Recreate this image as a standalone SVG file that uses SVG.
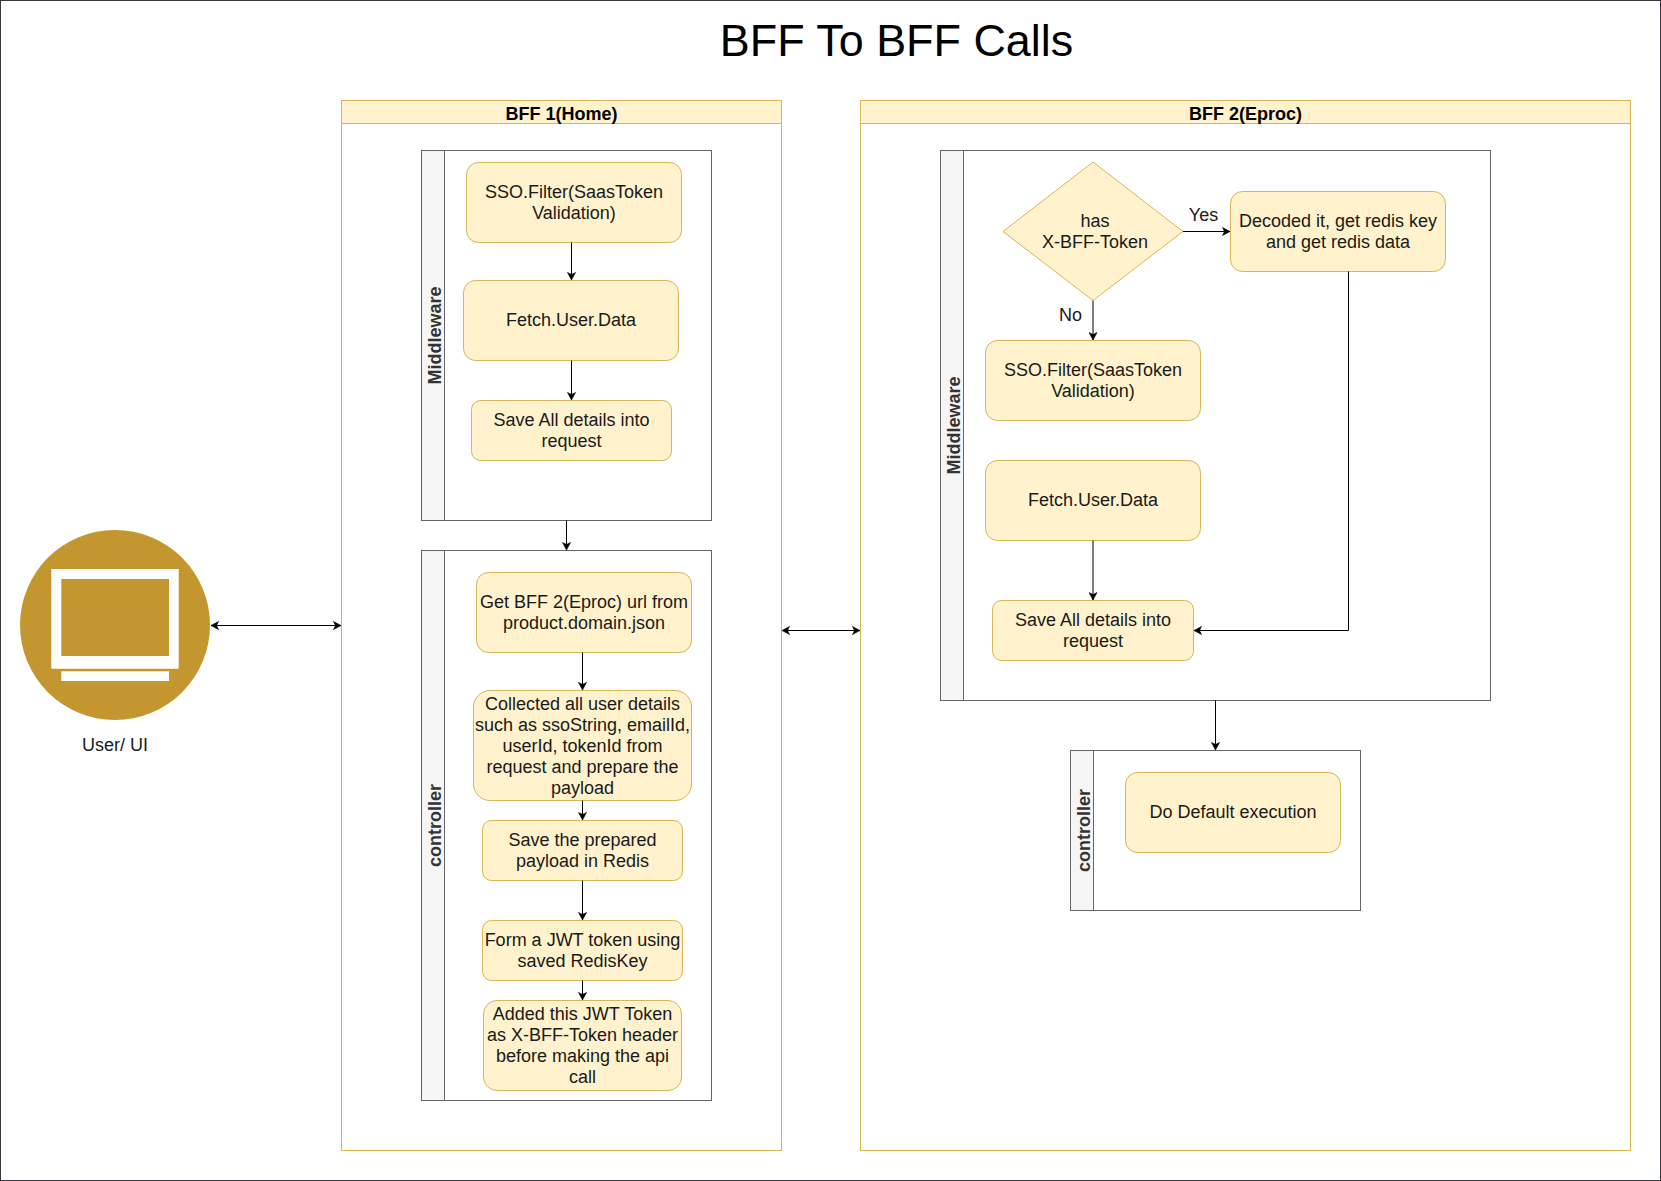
<svg xmlns="http://www.w3.org/2000/svg" width="1661" height="1181" viewBox="0 0 1661 1181">
<style>
text{font-family:"Liberation Sans",Arial,sans-serif;font-size:18px;fill:#1a1a1a;text-anchor:middle}
.title{font-size:44.9px;fill:#000}
.hd{font-weight:bold;fill:#000}
.lane{font-weight:bold;fill:#333}
.y{fill:#fff2cc;stroke:#d6b656;stroke-width:1}
.p{fill:#fff;stroke:#d6b656;stroke-width:1}
.g{fill:#f5f5f5;stroke:#666;stroke-width:1}
.w{fill:#fff;stroke:#666;stroke-width:1}
.c path{fill:none;stroke:#000;stroke-width:1}
.b{marker-end:url(#ah)}
.d{marker-end:url(#ah);marker-start:url(#ah)}
</style>
<defs>
<marker id="ah" markerUnits="userSpaceOnUse" markerWidth="9" markerHeight="9" viewBox="0 0 9 9" refX="8" refY="4.5" orient="auto-start-reverse">
<path d="M0.5 0.5L8 4.5L0.5 8.5L2.5 4.5z" fill="#000" stroke="#000" stroke-width="0.6"/>
</marker>
</defs>
<rect x="0.5" y="0.5" width="1660" height="1180" fill="#fff" stroke="#36393d"/>
<text class="title" x="896.5" y="56">BFF To BFF Calls</text>

<g id="bff1">
<rect class="p" x="341.5" y="100.5" width="440" height="1050"/>
<rect class="y" x="341.5" y="100.5" width="440" height="23"/>
<text class="hd" x="561.5" y="120">BFF 1(Home)</text>
</g>
<g id="bff2">
<rect class="p" x="860.5" y="100.5" width="770" height="1050"/>
<rect class="y" x="860.5" y="100.5" width="770" height="23"/>
<text class="hd" x="1245.5" y="120">BFF 2(Eproc)</text>
</g>

<g id="lane-middleware-1">
<rect class="w" x="421.5" y="150.5" width="290" height="370"/>
<rect class="g" x="421.5" y="150.5" width="23" height="370"/>
<text class="lane" transform="translate(441 335.5) rotate(-90)">Middleware</text>
</g>
<g id="lane-controller-1">
<rect class="w" x="421.5" y="550.5" width="290" height="550"/>
<rect class="g" x="421.5" y="550.5" width="23" height="550"/>
<text class="lane" transform="translate(441 825.5) rotate(-90)">controller</text>
</g>
<g id="lane-middleware-2">
<rect class="w" x="940.5" y="150.5" width="550" height="550"/>
<rect class="g" x="940.5" y="150.5" width="23" height="550"/>
<text class="lane" transform="translate(960 425.5) rotate(-90)">Middleware</text>
</g>
<g id="lane-controller-2">
<rect class="w" x="1070.5" y="750.5" width="290" height="160"/>
<rect class="g" x="1070.5" y="750.5" width="23" height="160"/>
<text class="lane" transform="translate(1090 830.5) rotate(-90)">controller</text>
</g>

<g id="user-ui">
<circle cx="115" cy="625" r="95" fill="#c4962f"/>
<path d="M51.3 569H178.7V668.7H51.3zM61.3 579V656H169V579z" fill="#fff" fill-rule="evenodd"/>
<rect x="61.3" y="671.3" width="107.7" height="9.7" fill="#fff"/>
<text x="115" y="751">User/ UI</text>
</g>

<g id="sso1"><rect class="y" x="466.5" y="162.5" width="215" height="80" rx="12"/>
<text x="574" y="198">SSO.Filter(SaasToken</text><text x="574" y="219">Validation)</text></g>
<g id="fetch1"><rect class="y" x="463.5" y="280.5" width="215" height="80" rx="12"/>
<text x="571" y="326">Fetch.User.Data</text></g>
<g id="save1"><rect class="y" x="471.5" y="400.5" width="200" height="60" rx="9"/>
<text x="571.5" y="426">Save All details into</text><text x="571.5" y="447">request</text></g>

<g id="geturl"><rect class="y" x="476.5" y="572.5" width="215" height="80" rx="12"/>
<text x="584" y="608">Get BFF 2(Eproc) url from</text><text x="584" y="629">product.domain.json</text></g>
<g id="collect"><rect class="y" x="473.5" y="690.5" width="218" height="110" rx="16.5"/>
<text x="582.5" y="709.5">Collected all user details</text><text x="582.5" y="730.5">such as ssoString, emailId,</text><text x="582.5" y="751.5">userId, tokenId from</text><text x="582.5" y="772.5">request and prepare the</text><text x="582.5" y="793.5">payload</text></g>
<g id="saveredis"><rect class="y" x="482.5" y="820.5" width="200" height="60" rx="9"/>
<text x="582.5" y="846">Save the prepared</text><text x="582.5" y="867">payload in Redis</text></g>
<g id="jwt"><rect class="y" x="482.5" y="920.5" width="200" height="60" rx="9"/>
<text x="582.5" y="946">Form a JWT token using</text><text x="582.5" y="967">saved RedisKey</text></g>
<g id="header"><rect class="y" x="483.5" y="1000.5" width="198" height="90" rx="13.5"/>
<text x="582.5" y="1020">Added this JWT Token</text><text x="582.5" y="1041">as X-BFF-Token header</text><text x="582.5" y="1062">before making the api</text><text x="582.5" y="1083">call</text></g>

<g id="decision"><path class="y" d="M1093 162L1183 231.5L1093 300.5L1003 231.5z"/>
<text x="1095" y="227">has</text><text x="1095" y="248">X-BFF-Token</text></g>
<g id="decoded"><rect class="y" x="1230.5" y="191.5" width="215" height="80" rx="12"/>
<text x="1338" y="227">Decoded it, get redis key</text><text x="1338" y="248">and get redis data</text></g>
<g id="sso2"><rect class="y" x="985.5" y="340.5" width="215" height="80" rx="12"/>
<text x="1093" y="376">SSO.Filter(SaasToken</text><text x="1093" y="397">Validation)</text></g>
<g id="fetch2"><rect class="y" x="985.5" y="460.5" width="215" height="80" rx="12"/>
<text x="1093" y="506">Fetch.User.Data</text></g>
<g id="save2"><rect class="y" x="992.5" y="600.5" width="201" height="60" rx="9"/>
<text x="1093" y="626">Save All details into</text><text x="1093" y="647">request</text></g>
<g id="default"><rect class="y" x="1125.5" y="772.5" width="215" height="80" rx="12"/>
<text x="1233" y="818">Do Default execution</text></g>

<g id="connectors" class="c">
<path class="d" d="M211 625.5H341"/>
<path class="d" d="M782 630.5H860"/>
<path class="b" d="M571.5 242.5V280"/>
<path class="b" d="M571.5 360.5V400"/>
<path class="b" d="M566.5 520.5V550"/>
<path class="b" d="M582.5 652.5V690"/>
<path class="b" d="M582.5 800.5V820"/>
<path class="b" d="M582.5 880.5V920"/>
<path class="b" d="M582.5 980.5V1000"/>
<path class="b" d="M1183 231.5H1230"/>
<path class="b" d="M1093 300.5V340"/>
<path class="b" d="M1093 540.5V600"/>
<path class="b" d="M1348.5 271.5V630.5H1194"/>
<path class="b" d="M1215.5 700.5V750"/>
</g>
<text x="1203.5" y="221">Yes</text>
<text x="1070.5" y="321">No</text>
</svg>
